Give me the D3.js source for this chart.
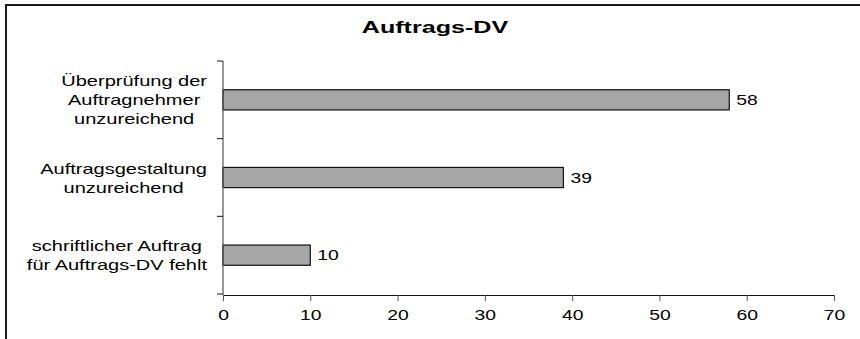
<!DOCTYPE html>
<html>
<head>
<meta charset="utf-8">
<script src="https://cdn.jsdelivr.net/npm/d3@7"></script>
<style>
  html, body { margin: 0; padding: 0; background: #fff; }
  svg { display: block; font-family: "Liberation Sans", Arial, sans-serif; }
</style>
</head>
<body>
<svg id="chart" width="860" height="339"></svg>
<script>
// Chart content
const chartTitle = "Auftrags-DV";
const categories = [
  ["Überprüfung der", "Auftragnehmer", "unzureichend"],
  ["Auftragsgestaltung", "unzureichend"],
  ["schriftlicher Auftrag", "für Auftrags-DV fehlt"]
];
const values = [58, 39, 10];
const xTicks = [0, 10, 20, 30, 40, 50, 60, 70];

// Layout
const plot = { left: 223, right: 834, top: 61, bottom: 294 };
const stretch = 1.38;       // horizontal text widening
const labelStretch = 1.38;
const titleStretch = 1.57;

const svg = d3.select("#chart");

// Outer frame (open on the right and bottom edges of the page)
svg.append("rect")
  .attr("x", 6).attr("y", 5)
  .attr("width", 900).attr("height", 400)
  .attr("fill", "none").attr("stroke", "#1a1a1a").attr("stroke-width", 2);

// Title
svg.append("text")
  .attr("transform", `translate(435,33) scale(${titleStretch},1)`)
  .attr("text-anchor", "middle")
  .attr("font-size", 16).attr("font-weight", "bold")
  .attr("fill", "#000")
  .text(chartTitle);

const x = d3.scaleLinear().domain([0, 70]).range([plot.left, plot.right]);
const keys = categories.map((c, i) => "c" + i);
const y = d3.scaleBand().domain(keys).range([plot.top, plot.bottom])
  .paddingInner(0.74).paddingOuter(0.37);

// Bars
svg.append("g").selectAll("rect")
  .data(values)
  .join("rect")
  .attr("x", x(0))
  .attr("y", (d, i) => y(keys[i]))
  .attr("width", d => x(d) - x(0))
  .attr("height", y.bandwidth())
  .attr("fill", "#a6a6a6")
  .attr("stroke", "#111")
  .attr("stroke-width", 1.2);

// Value labels
svg.append("g").selectAll("text")
  .data(values)
  .join("text")
  .attr("transform", (d, i) =>
    `translate(${x(d) + 7},${y(keys[i]) + y.bandwidth() / 2 + 5}) scale(${stretch},1)`)
  .attr("font-size", 14)
  .attr("fill", "#000")
  .text(d => d);

// X axis
const xAxis = svg.append("g")
  .attr("transform", `translate(0,${plot.bottom + 1})`)
  .call(d3.axisBottom(x).tickValues(xTicks).tickSize(6).tickSizeOuter(0).tickPadding(9));
xAxis.select(".domain").attr("stroke", "#111").attr("stroke-width", 1.2);
xAxis.selectAll(".tick line").attr("stroke", "#555");
xAxis.selectAll(".tick text")
  .attr("font-size", 14)
  .attr("font-family", "Liberation Sans, Arial, sans-serif")
  .attr("fill", "#000")
  .attr("transform", `scale(${stretch},1)`);

// Y axis line and category boundary ticks
const yAx = svg.append("g");
yAx.append("line")
  .attr("x1", x(0)).attr("x2", x(0))
  .attr("y1", plot.top).attr("y2", plot.bottom + 1)
  .attr("stroke", "#555").attr("stroke-width", 1.2);
const bounds = d3.range(keys.length + 1).map(i => plot.top + i * y.step());
yAx.selectAll("line.tk")
  .data(bounds)
  .join("line")
  .attr("class", "tk")
  .attr("x1", x(0) - 6).attr("x2", x(0))
  .attr("y1", d => d).attr("y2", d => d)
  .attr("stroke", "#111").attr("stroke-width", 1);

// Category labels: lines centred inside a block that is right-aligned to the axis
const labelRight = 207;
const lineH = 19;
categories.forEach((lines, i) => {
  const cy = y(keys[i]) + y.bandwidth() / 2;
  const g = svg.append("g");
  const texts = lines.map((ln, j) => g.append("text")
    .attr("font-size", 14.5).attr("fill", "#000")
    .attr("text-anchor", "middle")
    .text(ln));
  const blockW = d3.max(texts, t => t.node().getComputedTextLength()) * labelStretch;
  const cx = labelRight - blockW / 2;
  const y0 = cy - (lines.length - 1) * lineH / 2 + 5.5;
  texts.forEach((t, j) =>
    t.attr("transform", `translate(${cx},${y0 + j * lineH}) scale(${labelStretch},1)`));
});
</script>
</body>
</html>
